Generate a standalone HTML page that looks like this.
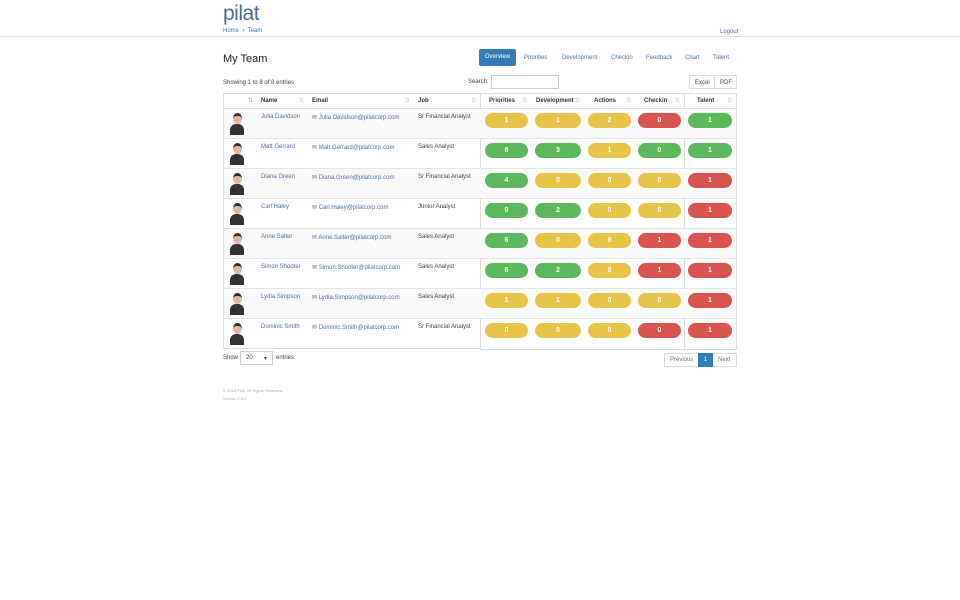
<!DOCTYPE html>
<html><head><style>
*{box-sizing:border-box;margin:0;padding:0}
body{width:960px;height:600px;background:#fff;font-family:"Liberation Sans",sans-serif;position:relative;overflow:hidden;color:#444}
.a{position:absolute}
.lnk{color:#4a72a8}
.t{font-size:6px}
.hdr{font-size:6px;font-weight:bold;color:#333}
.pill{position:absolute;height:15px;border-radius:8px;color:#fff;font-size:7px;font-weight:bold;text-align:center;line-height:15px}
.y{background:#e6c447}.g{background:#5cb85c}.r{background:#d9534f}
.sort{position:absolute;color:#ccc;font-size:6px}
</style></head><body>
<div class="a" style="left:223px;top:2px;font-size:21px;color:#4a6a9a;letter-spacing:-0.5px">pilat</div>
<div class="a t lnk" style="left:223px;top:28px">Home &nbsp;›&nbsp; Team</div>
<div class="a t lnk" style="left:720px;top:29px">Logout</div>
<div class="a" style="left:0;top:36px;width:960px;height:1px;background:#e5e5e5"></div>
<div class="a" style="left:223px;top:53px;font-size:11px;color:#222">My Team</div>
<div class="a" style="left:479px;top:49px;width:37px;height:17px;background:#337ab7;border-radius:2px;color:#fff;font-size:6px;text-align:center;line-height:17px">Overview</div>
<div class="a t lnk" style="left:524px;top:55px">Priorities</div>
<div class="a t lnk" style="left:562px;top:55px">Development</div>
<div class="a t lnk" style="left:611px;top:55px">Checkin</div>
<div class="a t lnk" style="left:646px;top:55px">Feedback</div>
<div class="a t lnk" style="left:685px;top:55px">Chart</div>
<div class="a t lnk" style="left:713px;top:55px">Talent</div>
<div class="a t" style="left:223px;top:80px">Showing 1 to 8 of 8 entries</div>
<div class="a t" style="left:468px;top:79px">Search:</div>
<div class="a" style="left:491px;top:75px;width:68px;height:14px;border:1px solid #ccc"></div>
<div class="a t" style="left:689px;top:75px;width:48px;height:14px;border:1px solid #ddd;"></div>
<div class="a t" style="left:714px;top:75px;width:1px;height:14px;background:#ddd"></div>
<div class="a t" style="left:695px;top:80px">Excel</div>
<div class="a t" style="left:720px;top:80px">PDF</div>

<div class="a" style="left:223px;top:93px;width:258px;height:256px;border:1px solid #ddd"></div>
<div class="a" style="left:480px;top:93px;width:257px;height:257px;border:1px solid #ddd"></div>
<div class="a" style="left:684px;top:93px;width:1px;height:257px;background:#ddd"></div>
<div class="a" style="left:223px;top:108px;width:514px;height:1px;background:#ddd"></div>
<div id="rows"></div>
<div class="a hdr" style="left:261px;top:98px">Name</div>
<div class="a hdr" style="left:312px;top:98px">Email</div>
<div class="a hdr" style="left:418px;top:98px">Job</div>
<div class="a hdr" style="left:489px;top:98px">Priorities</div>
<div class="a hdr" style="left:536px;top:98px">Development</div>
<div class="a hdr" style="left:594px;top:98px">Actions</div>
<div class="a hdr" style="left:644px;top:98px">Checkin</div>
<div class="a hdr" style="left:697px;top:98px">Talent</div>
<div class="sort" style="left:248px;top:97px;color:#aaa">⇅</div>
<div class="sort" style="left:299px;top:97px">⇅</div>
<div class="sort" style="left:405px;top:97px">⇅</div>
<div class="sort" style="left:471px;top:97px">⇅</div>
<div class="sort" style="left:522px;top:97px">⇅</div>
<div class="sort" style="left:575px;top:97px">⇅</div>
<div class="sort" style="left:626px;top:97px">⇅</div>
<div class="sort" style="left:675px;top:97px">⇅</div>
<div class="sort" style="left:727px;top:97px">⇅</div>

<div class="a t" style="left:223px;top:355px">Show</div>
<div class="a" style="left:240px;top:351px;width:33px;height:14px;border:1px solid #ccc;font-size:6px;padding:3px 5px">20<span style="float:right">▾</span></div>
<div class="a t" style="left:276px;top:355px">entries</div>
<div class="a" style="left:664px;top:353px;width:73px;height:14px;border:1px solid #ddd"></div>
<div class="a t" style="left:670px;top:357px;color:#777">Previous</div>
<div class="a" style="left:698px;top:353px;width:15px;height:14px;background:#337ab7;color:#fff;font-size:6px;text-align:center;line-height:14px">1</div>
<div class="a t" style="left:718px;top:357px;color:#777">Next</div>
<div class="a" style="left:223px;top:388px;font-size:4px;color:#aaa">© 2016 Pilat. All Rights Reserved.</div>
<div class="a" style="left:223px;top:396px;font-size:4px;color:#aaa">Version 1.0.0</div>
<script>
var d=[["Julia Davidson","Sr Financial Analyst",[["y",1],["y",1],["y",2],["r",0],["g",1]]],
["Matt Gerrard","Sales Analyst",[["g",8],["g",3],["y",1],["g",0],["g",1]]],
["Diana Green","Sr Financial Analyst",[["g",4],["y",0],["y",0],["y",0],["r",1]]],
["Carl Haley","Junior Analyst",[["g",9],["g",2],["y",0],["y",0],["r",1]]],
["Anne Salter","Sales Analyst",[["g",6],["y",0],["y",9],["r",1],["r",1]]],
["Simon Shooter","Sales Analyst",[["g",6],["g",2],["y",0],["r",1],["r",1]]],
["Lydia Simpson","Sales Analyst",[["y",1],["y",1],["y",0],["y",0],["r",1]]],
["Dominic Smith","Sr Financial Analyst",[["y",0],["y",0],["y",0],["r",0],["r",1]]]];
var px=[[485,43],[535,46],[588,43],[638,43],[688,44]],h="";
d.forEach(function(r,i){var y=108+i*30;
if(i%2==0)h+='<div class="a" style="left:224px;top:'+(y+1)+'px;width:512px;height:29px;background:#f9f9f9"></div>';
if(i>0)h+='<div class="a" style="left:224px;top:'+y+'px;width:512px;height:1px;background:#e4e4e4"></div>';
h+='<div class="a" style="left:230px;top:'+(y+4)+'px;width:14px;height:23px;overflow:hidden"><div class="a" style="left:3px;top:1px;width:9px;height:11px;border-radius:50%;background:#e2b9a0;border-top:3px solid #3a2a22"></div><div class="a" style="left:0;top:12px;width:14px;height:12px;border-radius:6px 6px 0 0;background:#333"></div></div>';
h+='<div class="a t lnk" style="left:261px;top:'+(y+6)+'px">'+r[0]+'</div>';
h+='<div class="a t lnk" style="left:312px;top:'+(y+6)+'px">✉ '+r[0].replace(" ",".")+'@pilatcorp.com</div>';
h+='<div class="a t" style="left:418px;top:'+(y+6)+'px">'+r[1]+'</div>';
r[2].forEach(function(p,j){h+='<div class="pill '+p[0]+'" style="left:'+px[j][0]+'px;top:'+(y+5)+'px;width:'+px[j][1]+'px">'+p[1]+'</div>';});
});
document.getElementById("rows").innerHTML=h;
</script>
</body></html>
